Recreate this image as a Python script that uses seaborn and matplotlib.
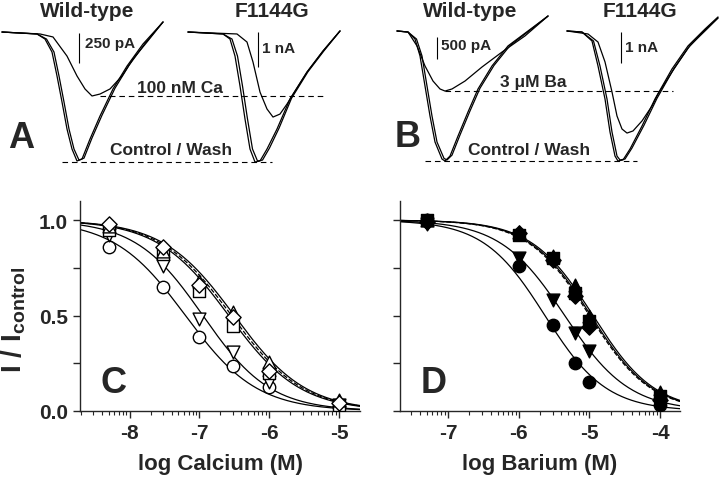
import numpy as np
import matplotlib
matplotlib.use("Agg")
import matplotlib.pyplot as plt
import matplotlib.ticker as mticker
import seaborn as sns

# Estilo
sns.set_style("ticks")
plt.rcParams['font.family'] = ['Liberation Sans', 'DejaVu Sans']
plt.rcParams['font.weight'] = 'bold'
plt.rcParams['mathtext.fontset'] = 'custom'
plt.rcParams['mathtext.rm'] = 'Liberation Sans:bold'
plt.rcParams['mathtext.bf'] = 'Liberation Sans:bold'
plt.rcParams['mathtext.it'] = 'Liberation Sans:bold'
plt.rcParams['axes.linewidth'] = 1.0

# ---- current traces (time in ms, current normalised to control peak) ----
# panel A, wild-type
a_wt_ctrl_t = [0.4, 7.4, 9.0, 10.4, 11.4, 12.4, 13.4, 14.4, 15.4, 16.4, 18.0, 20.0, 22.6, 25.4, 28.6, 32.6]
a_wt_ctrl_i = [0.0, -0.015, -0.054, -0.154, -0.338, -0.538, -0.746, -0.900, -0.992, -0.977, -0.823, -0.646, -0.438, -0.262, -0.092, 0.077]
a_wt_wash_t = [0.4, 7.4, 9.3, 10.8, 11.8, 12.8, 13.8, 14.8, 15.8, 16.8, 18.4, 20.4, 23.0, 25.8, 29.0, 32.6]
a_wt_wash_i = [0.0, -0.015, -0.054, -0.154, -0.338, -0.538, -0.746, -0.900, -0.985, -0.970, -0.815, -0.640, -0.432, -0.256, -0.088, 0.077]
a_wt_blk_t = [0.4, 8.0, 10.6, 13.4, 15.4, 17.0, 18.4, 20.0, 22.0, 24.4, 26.6, 29.4, 32.6]
a_wt_blk_i = [0.0, -0.015, -0.038, -0.185, -0.338, -0.438, -0.492, -0.477, -0.438, -0.338, -0.208, -0.077, 0.077]
# panel A, F1144G
a_mut_ctrl_t = [37.6, 44.6, 46.0, 47.0, 48.0, 49.0, 50.0, 51.0, 52.0, 53.4, 55.4, 58.0, 61.4, 64.6, 68.0]
a_mut_ctrl_i = [0.0, -0.015, -0.054, -0.185, -0.415, -0.669, -0.900, -1.0, -0.992, -0.900, -0.746, -0.515, -0.308, -0.146, 0.008]
a_mut_wash_t = [37.6, 44.6, 46.4, 47.5, 48.5, 49.5, 50.5, 51.5, 52.5, 53.9, 55.8, 58.3, 61.6, 64.8, 68.0]
a_mut_wash_i = [0.0, -0.015, -0.054, -0.185, -0.415, -0.669, -0.900, -0.992, -0.985, -0.892, -0.740, -0.510, -0.305, -0.144, 0.008]
a_mut_blk_t = [37.6, 47.4, 49.4, 50.6, 52.0, 53.4, 54.6, 56.0, 57.4, 58.4, 61.4, 64.6, 68.0]
a_mut_blk_i = [0.0, -0.015, -0.077, -0.231, -0.462, -0.592, -0.654, -0.631, -0.554, -0.492, -0.308, -0.146, 0.008]
# panel B, wild-type
b_wt_ctrl_t = [7.4, 9.6, 11.0, 12.0, 13.0, 14.0, 15.0, 16.4, 17.0, 18.0, 19.6, 21.6, 23.6, 26.4, 29.6, 33.6, 37.6]
b_wt_ctrl_i = [0.0, -0.008, -0.062, -0.192, -0.423, -0.654, -0.854, -0.985, -1.0, -0.962, -0.808, -0.623, -0.446, -0.269, -0.115, 0.0, 0.115]
b_wt_wash_t = [7.4, 9.6, 11.3, 12.4, 13.4, 14.4, 15.4, 16.8, 17.4, 18.4, 20.0, 22.0, 24.0, 26.8, 30.0, 33.8, 37.6]
b_wt_wash_i = [0.0, -0.008, -0.062, -0.192, -0.423, -0.654, -0.854, -0.980, -0.992, -0.955, -0.800, -0.615, -0.440, -0.265, -0.112, 0.0, 0.115]
b_wt_blk_t = [7.4, 9.6, 11.4, 13.0, 14.6, 16.0, 17.0, 18.4, 21.0, 24.4, 28.4, 33.0, 37.6]
b_wt_blk_i = [0.0, -0.008, -0.115, -0.269, -0.385, -0.446, -0.462, -0.446, -0.385, -0.277, -0.162, -0.038, 0.115]
# panel B, F1144G
b_mut_ctrl_t = [41.4, 44.4, 46.4, 47.6, 49.0, 50.0, 51.0, 51.6, 52.6, 54.0, 56.4, 59.0, 62.4, 65.6, 69.0, 71.6]
b_mut_ctrl_i = [0.0, -0.008, -0.077, -0.269, -0.523, -0.777, -0.962, -1.0, -0.992, -0.908, -0.731, -0.523, -0.292, -0.115, 0.015, 0.108]
b_mut_wash_t = [41.4, 44.4, 46.7, 48.0, 49.4, 50.4, 51.4, 52.0, 53.0, 54.4, 56.8, 59.4, 62.8, 66.0, 69.4, 71.6]
b_mut_wash_i = [0.0, -0.008, -0.077, -0.269, -0.523, -0.777, -0.962, -0.992, -0.985, -0.900, -0.725, -0.518, -0.288, -0.112, 0.015, 0.100]
b_mut_blk_t = [41.4, 45.6, 47.6, 49.0, 50.4, 51.4, 52.4, 53.4, 54.6, 56.4, 58.4, 59.6, 62.4, 65.6, 69.0, 71.6]
b_mut_blk_i = [0.0, -0.023, -0.085, -0.238, -0.469, -0.654, -0.754, -0.785, -0.769, -0.692, -0.577, -0.485, -0.315, -0.131, 0.008, 0.1]

# reference levels (block, control) and scale bars (normalised units)
a_levels = [-0.492, -1.0]
b_levels = [-0.462, -1.0]
a_bars = [0.231, 0.269]   # 250 pA, 1 nA
b_bars = [0.169, 0.238]   # 500 pA, 1 nA

# ---- concentration-response data ----
ca_log = [-8.3, -7.52, -7.0, -6.52, -6.0, -5.0]
ca_circle = [0.86, 0.65, 0.39, 0.235, 0.125, 0.02]
ca_down = [0.92, 0.76, 0.48, 0.31, 0.15, 0.03]
ca_square = [0.95, 0.82, 0.63, 0.445, 0.20, 0.03]
ca_up = [0.97, 0.84, 0.68, 0.52, 0.255, 0.06]
ca_diamond = [0.98, 0.86, 0.66, 0.49, 0.21, 0.04]
ca_ic50 = [-7.2, -6.95, -6.58, -6.5, -6.54]
ca_hill = [0.85, 0.9, 0.85, 0.85, 0.85]

ba_log = [-7.3, -6.0, -5.52, -5.2, -5.0, -4.0]
ba_circle = [1.0, 0.76, 0.45, 0.25, 0.15, 0.03]
ba_down = [0.98, 0.80, 0.58, 0.41, 0.315, 0.05]
ba_down_err = [0.0, 0.01, 0.02, 0.03, 0.02, 0.0]
ba_square = [1.0, 0.92, 0.80, 0.62, 0.47, 0.08]
ba_up = [1.0, 0.94, 0.81, 0.66, 0.50, 0.10]
ba_diamond = [0.99, 0.93, 0.79, 0.60, 0.44, 0.06]
ba_ic50 = [-5.63, -5.35, -4.98, -4.95, -5.0]
ba_hill = [1.0, 0.95, 1.0, 1.0, 1.0]

markers = ['o', 'v', 's', '^', 'D']
marker_sizes = [80, 85, 70, 85, 60]
curve_styles = ['-', '-', '-', '-', '--']


def hill(log_c, ic50, n):
    return 1.0 / (1.0 + 10 ** (n * (log_c - ic50)))


def draw_traces(ax, traces, ylim):
    for t, i in traces:
        sns.lineplot(x=t, y=i, ax=ax, color='black', lw=0.9, estimator=None, sort=False)
    ax.set_xlim(0, 72)
    ax.set_ylim(*ylim)
    ax.axis('off')


def draw_dose(ax, xlog, series, ic50s, hills, open_marks, xlim, ticks, err=None):
    xs = np.logspace(xlim[0], xlim[1], 300)
    for k in range(len(series)):
        sns.lineplot(x=xs, y=hill(np.log10(xs), ic50s[k], hills[k]), ax=ax,
                     color='black', lw=0.9, ls=curve_styles[k], estimator=None)
    conc = 10 ** np.array(xlog)
    if err is not None:
        ax.errorbar(conc, series[1], yerr=[np.zeros(len(err)), err], fmt='none',
                    ecolor='black', elinewidth=0.8, capsize=2, zorder=2)
    for k in range(len(series)):
        face = 'white' if open_marks else 'black'
        sns.scatterplot(x=conc, y=series[k], ax=ax, marker=markers[k], s=marker_sizes[k],
                        color=face, edgecolor='black', linewidth=1.0, zorder=3)
    ax.set_xscale('log')
    ax.set_xlim(10 ** xlim[0], 10 ** xlim[1])
    ax.set_ylim(0, 1.1)
    ax.xaxis.set_major_locator(mticker.FixedLocator([10.0 ** p for p in ticks]))
    ax.xaxis.set_major_formatter(mticker.FuncFormatter(lambda v, pos: f"{int(round(np.log10(v)))}"))
    ax.xaxis.set_minor_locator(mticker.LogLocator(base=10, subs=np.arange(2, 10), numticks=20))
    ax.xaxis.set_minor_formatter(mticker.NullFormatter())
    ax.set_yticks([0, 0.25, 0.5, 0.75, 1.0])
    ax.tick_params(which='major', direction='out', length=5, width=1, labelsize=15)
    ax.tick_params(which='minor', direction='out', length=3, width=0.8)
    sns.despine(ax=ax)
    for lab in ax.get_xticklabels() + ax.get_yticklabels():
        lab.set_fontweight('bold')


fig = plt.figure(figsize=(7.2, 4.81), dpi=100)

# ---- panel A ----
ax_a = fig.add_axes([0, 306 / 481, 0.5, 175 / 481])
draw_traces(ax_a, [(a_wt_ctrl_t, a_wt_ctrl_i), (a_wt_wash_t, a_wt_wash_i), (a_wt_blk_t, a_wt_blk_i),
                   (a_mut_ctrl_t, a_mut_ctrl_i), (a_mut_wash_t, a_mut_wash_i), (a_mut_blk_t, a_mut_blk_i)],
            (-1.092, 0.254))
dash = (0, (5, 3.5))
ax_a.hlines(a_levels[0], 20.0, 64.6, colors='black', lw=0.8, linestyles=[dash])
ax_a.hlines(a_levels[1], 12.4, 54.4, colors='black', lw=0.8, linestyles=[dash])
ax_a.vlines(15.8, -0.008, -0.008 - a_bars[0], colors='black', lw=0.8)
ax_a.vlines(51.6, 0.0, -a_bars[1], colors='black', lw=0.8)
ax_a.text(17.4, 0.162, 'Wild-type', ha='center', va='center', fontsize=15, fontweight='bold')
ax_a.text(54.4, 0.162, 'F1144G', ha='center', va='center', fontsize=15, fontweight='bold')
ax_a.text(17.0, -0.085, '250 pA', ha='left', va='center', fontsize=11, fontweight='bold')
ax_a.text(52.4, -0.123, '1 nA', ha='left', va='center', fontsize=11, fontweight='bold')
ax_a.text(27.4, -0.423, '100 nM Ca', ha='left', va='center', fontsize=12.5, fontweight='bold')
ax_a.text(22.0, -0.9, 'Control / Wash', ha='left', va='center', fontsize=12.5, fontweight='bold')
ax_a.text(4.2, -0.808, 'A', ha='center', va='center', fontsize=26, fontweight='bold')

# ---- panel B ----
ax_b = fig.add_axes([0.5, 306 / 481, 0.5, 175 / 481])
draw_traces(ax_b, [(b_wt_ctrl_t, b_wt_ctrl_i), (b_wt_wash_t, b_wt_wash_i), (b_wt_blk_t, b_wt_blk_i),
                   (b_mut_ctrl_t, b_mut_ctrl_i), (b_mut_wash_t, b_mut_wash_i), (b_mut_blk_t, b_mut_blk_i)],
            (-1.1, 0.246))
ax_b.hlines(b_levels[0], 17.0, 62.6, colors='black', lw=0.8, linestyles=[dash])
ax_b.hlines(b_levels[1], 13.0, 55.4, colors='black', lw=0.8, linestyles=[dash])
ax_b.vlines(15.4, -0.046, -0.046 - b_bars[0], colors='black', lw=0.8)
ax_b.vlines(52.2, -0.008, -0.008 - b_bars[1], colors='black', lw=0.8)
ax_b.text(22.0, 0.154, 'Wild-type', ha='center', va='center', fontsize=15, fontweight='bold')
ax_b.text(56.0, 0.154, 'F1144G', ha='center', va='center', fontsize=15, fontweight='bold')
ax_b.text(16.2, -0.108, '500 pA', ha='left', va='center', fontsize=11, fontweight='bold')
ax_b.text(53.0, -0.123, '1 nA', ha='left', va='center', fontsize=11, fontweight='bold')
ax_b.text(28.0, -0.385, '3 μM Ba', ha='left', va='center', fontsize=12.5, fontweight='bold')
ax_b.text(21.6, -0.908, 'Control / Wash', ha='left', va='center', fontsize=12.5, fontweight='bold')
ax_b.text(9.6, -0.815, 'B', ha='center', va='center', fontsize=26, fontweight='bold')

# ---- panel C ----
ax_c = fig.add_axes([80 / 720, 69 / 481, 280 / 720, 210 / 481])
draw_dose(ax_c, ca_log, [ca_circle, ca_down, ca_square, ca_up, ca_diamond], ca_ic50, ca_hill,
          True, (-8.71, -4.7), [-8, -7, -6, -5])
ax_c.set_yticklabels(['0.0', '', '0.5', '', '1.0'])
ax_c.set_xlabel('log Calcium (M)', fontsize=16, fontweight='bold')
ax_c.xaxis.set_label_coords(0.5, -0.2)
ax_c.set_ylabel(r'$\mathbf{I\ /\ I}_{\mathbf{control}}$', fontsize=20)
ax_c.yaxis.set_label_coords(-0.185, 0.44)
ax_c.text(0.118, 0.138, 'C', transform=ax_c.transAxes, ha='center', va='center', fontsize=26, fontweight='bold')

# ---- panel D ----
ax_d = fig.add_axes([400 / 720, 69 / 481, 280 / 720, 210 / 481])
draw_dose(ax_d, ba_log, [ba_circle, ba_down, ba_square, ba_up, ba_diamond], ba_ic50, ba_hill,
          False, (-7.68, -3.72), [-7, -6, -5, -4], err=ba_down_err)
ax_d.set_yticklabels([])
ax_d.set_xlabel('log Barium (M)', fontsize=16, fontweight='bold')
ax_d.xaxis.set_label_coords(0.5, -0.2)
ax_d.set_ylabel('')
ax_d.text(0.121, 0.138, 'D', transform=ax_d.transAxes, ha='center', va='center', fontsize=26, fontweight='bold')

fig.savefig('out.png', dpi=100)
